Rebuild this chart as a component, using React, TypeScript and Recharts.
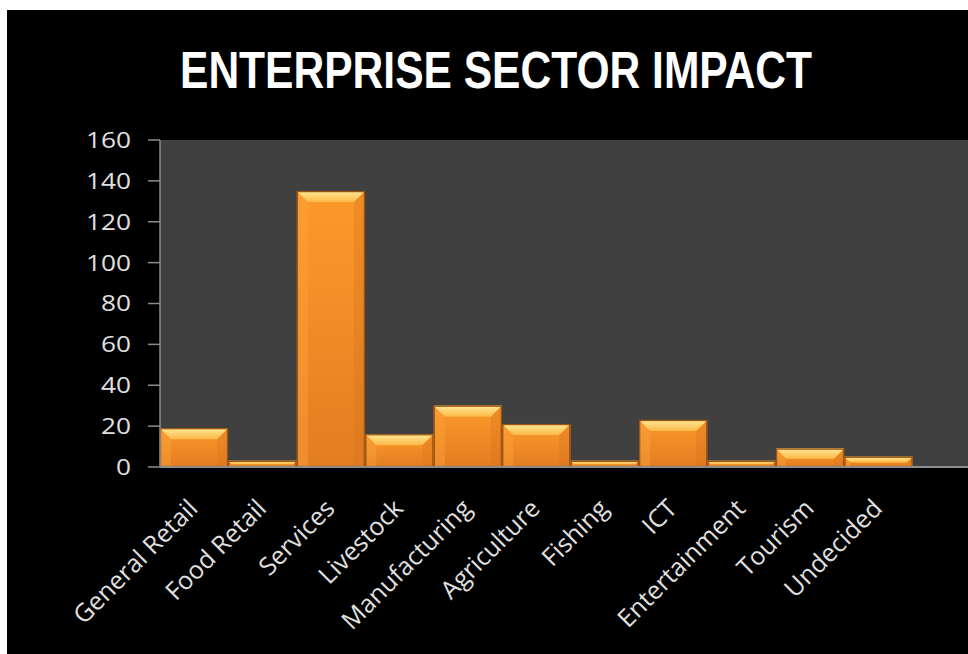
import React from 'react';
import { BarChart, Bar, XAxis, YAxis, CartesianGrid } from 'recharts';

const TITLE = 'ENTERPRISE SECTOR IMPACT';
const categories = [
  'General Retail',
  'Food Retail',
  'Services',
  'Livestock',
  'Manufacturing',
  'Agriculture',
  'Fishing',
  'ICT',
  'Entertainment',
  'Tourism',
  'Undecided',
];
const values = [19, 3, 135, 16, 30, 21, 3, 23, 3, 9, 5];
const yTicks = [0, 20, 40, 60, 80, 100, 120, 140, 160];

const data = categories.map((name, i) => ({ name, value: values[i] }));

const BevelBar = (props: any) => {
  const { x, y, width, height } = props;
  if (!height || height <= 0) return null;
  const b = Math.min(11, height * 0.55, width / 2);
  return (
    <g>
      <rect x={x} y={y} width={width} height={height} fill="url(#barBody)" />
      <polygon
        points={`${x},${y} ${x + b},${y + b} ${x + b},${y + height} ${x},${y + height}`}
        fill="#FBA13A"
        opacity={0.45}
      />
      <polygon
        points={`${x + width},${y} ${x + width - b},${y + b} ${x + width - b},${y + height} ${x + width},${y + height}`}
        fill="#D8731C"
        opacity={0.35}
      />
      <polygon
        points={`${x},${y} ${x + width},${y} ${x + width - b},${y + b} ${x + b},${y + b}`}
        fill="url(#barTop)"
      />
      <rect
        x={x + 0.5}
        y={y + 0.5}
        width={Math.max(0, width - 1)}
        height={Math.max(0, height - 1)}
        fill="none"
        stroke="#9E5512"
        strokeWidth={1.3}
      />
    </g>
  );
};

const YTick = (props: any) => {
  const { x, y, payload } = props;
  const s = String(payload.value);
  return (
    <text
      x={x}
      y={y}
      dy="0.36em"
      textAnchor="end"
      fill="#e0e0e0"
      fontSize={22}
      fontFamily="'Open Sans', sans-serif"
      textLength={s.length * 15}
      lengthAdjust="spacingAndGlyphs"
    >
      {s}
    </text>
  );
};

const XTick = (props: any) => {
  const { x, y, payload } = props;
  const ax = x + 5;
  const ay = y + 35;
  return (
    <text
      x={ax}
      y={ay}
      transform={`rotate(-45 ${ax} ${ay})`}
      textAnchor="end"
      fill="#e0e0e0"
      fontSize={25}
      fontFamily="'Open Sans', sans-serif"
    >
      {payload.value}
    </text>
  );
};

export default function App() {
  return (
    <div
      style={{
        position: 'absolute',
        left: 0,
        top: 0,
        width: 968,
        height: 654,
        background: '#ffffff',
        overflow: 'hidden',
      }}
    >
      <div
        style={{
          position: 'absolute',
          left: 7,
          top: 10,
          width: 961,
          height: 644,
          background: '#000000',
        }}
      >
        <BarChart
          width={961}
          height={644}
          data={data}
          margin={{ top: 130, right: 0, bottom: 0, left: 0 }}
          barCategoryGap={0}
          barGap={0}
        >
          <defs>
            <linearGradient id="barBody" x1="0" y1="0" x2="0" y2="1">
              <stop offset="0%" stopColor="#FC9A2B" />
              <stop offset="100%" stopColor="#E27D22" />
            </linearGradient>
            <linearGradient id="barTop" x1="0" y1="0" x2="0" y2="1">
              <stop offset="0%" stopColor="#FFEA98" />
              <stop offset="100%" stopColor="#FDB846" />
            </linearGradient>
          </defs>
          <CartesianGrid fill="#404040" horizontal={false} vertical={false} />
          <XAxis
            dataKey="name"
            type="category"
            height={187}
            padding={{ left: 0, right: 55 }}
            axisLine={{ stroke: '#8c8c8c', strokeWidth: 2 }}
            tickLine={false}
            interval={0}
            tick={<XTick />}
          />
          <YAxis
            type="number"
            domain={[0, 160]}
            ticks={yTicks}
            width={153}
            interval={0}
            axisLine={{ stroke: '#8c8c8c', strokeWidth: 1.5 }}
            tickLine={{ stroke: '#8c8c8c', strokeWidth: 1.5 }}
            tickSize={12}
            tickMargin={17}
            tick={<YTick />}
          />
          <Bar dataKey="value" shape={<BevelBar />} isAnimationActive={false} />
        </BarChart>
      </div>
      <svg
        style={{ position: 'absolute', left: 0, top: 0 }}
        width={968}
        height={130}
      >
        <text
          x={496}
          y={88}
          textAnchor="middle"
          fill="#ffffff"
          fontSize={52}
          fontWeight="bold"
          fontFamily="'Liberation Sans Narrow', 'Liberation Sans', sans-serif"
          textLength={632}
          lengthAdjust="spacingAndGlyphs"
        >
          {TITLE}
        </text>
      </svg>
    </div>
  );
}
